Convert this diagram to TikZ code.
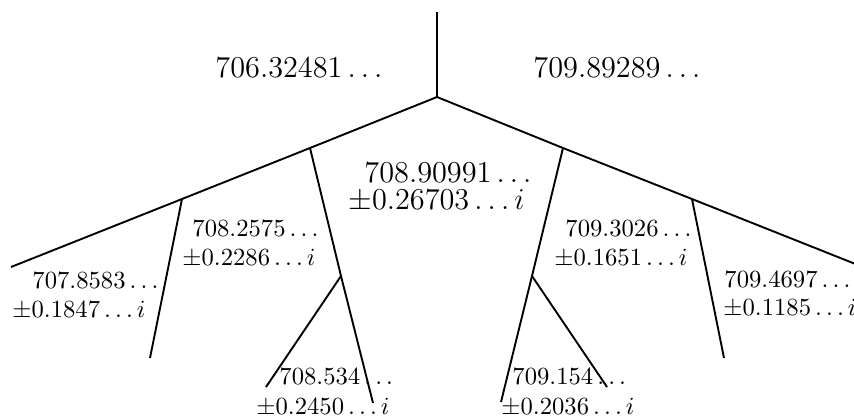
\RequirePackage{fix-cm}
\documentclass[tikz,border=0pt]{standalone}
\begin{document}
\begin{tikzpicture}[
    x=0.422pt, y=-0.422pt,
    branch/.style={draw=black, line width=0.8pt},
    big lab/.style={anchor=base west, inner sep=0pt, font=\fontsize{12.8}{15}\selectfont},
    leaf lab/.style={anchor=base west, inner sep=0pt, font=\fontsize{10.4}{12}\selectfont}
]
\useasboundingbox (0,0) rectangle (854,417);
\clip (0,0) rectangle (854,417);

% 分叉点与端点 (像素坐标, y 向下)
\coordinate (Top)   at (437, 12);
\coordinate (Root)  at (437, 97);
\coordinate (LEnd)  at ( 11,267);
\coordinate (REnd)  at (863,267);
\coordinate (LA)    at (182,199);
\coordinate (LAend) at (150,358);
\coordinate (LB)    at (310,148);
\coordinate (LBend) at (373,403);
\coordinate (LC)    at (341,276);
\coordinate (LCend) at (266,387);
\coordinate (RB)    at (563,148);
\coordinate (RBend) at (501,402);
\coordinate (RC)    at (532,276);
\coordinate (RCend) at (607,387);
\coordinate (RA)    at (692,199);
\coordinate (RAend) at (724,358);

% 主干与两条大分支
\draw[branch] (Top) -- (Root);
\draw[branch] (LEnd) -- (LA) -- (LB) -- (Root) -- (RB) -- (RA) -- (REnd);

% 左侧子分支
\draw[branch] (LA) -- (LAend);
\draw[branch] (LB) -- (LC) -- (LBend);
\draw[branch] (LC) -- (LCend);

% 右侧子分支
\draw[branch] (RA) -- (RAend);
\draw[branch] (RB) -- (RC) -- (RBend);
\draw[branch] (RC) -- (RCend);

% 实根
\node[big lab] (V1) at (215, 77) {$706.32481\ldots$};
\node[big lab] (V2) at (533, 77) {$709.89289\ldots$};

% 复根 (中间)
\node[big lab] (V3)  at (364,182) {$708.90991\ldots$};
\node[big lab] (V3i) at (348,209) {$\pm0.26703\ldots i$};

% 复根 (左)
\node[leaf lab] (V4)  at (192,236) {$708.2575\ldots$};
\node[leaf lab] (V4i) at (182,265) {$\pm0.2286\ldots i$};
\node[leaf lab] (V5)  at ( 32,288) {$707.8583\ldots$};
\node[leaf lab] (V5i) at ( 12,317) {$\pm0.1847\ldots i$};
\node[leaf lab] (V6)  at (279,384) {$708.534\ldots$};
\node[leaf lab] (V6i) at (256,414) {$\pm0.2450\ldots i$};

% 复根 (右)
\node[leaf lab] (V7)  at (565,236) {$709.3026\ldots$};
\node[leaf lab] (V7i) at (554,265) {$\pm0.1651\ldots i$};
\node[leaf lab] (V8)  at (724,287) {$709.4697\ldots$};
\node[leaf lab] (V8i) at (723,315) {$\pm0.1185\ldots i$};
\node[leaf lab] (V9)  at (512,384) {$709.154\ldots$};
\node[leaf lab] (V9i) at (501,414) {$\pm0.2036\ldots i$};

\end{tikzpicture}
\end{document}
